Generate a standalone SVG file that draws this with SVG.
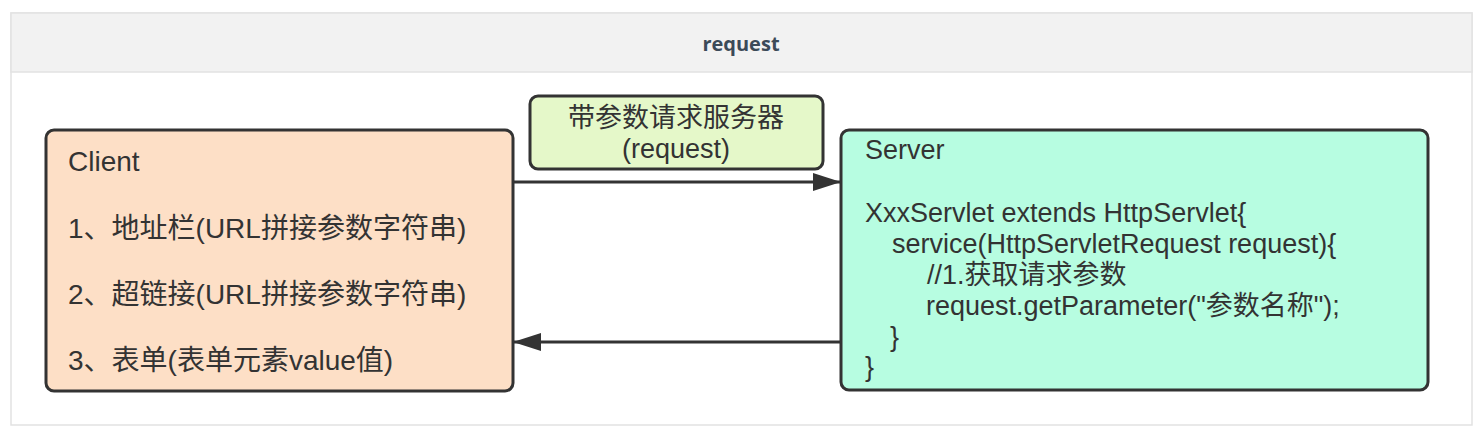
<svg xmlns="http://www.w3.org/2000/svg" width="1484" height="434" viewBox="0 0 1484 434">
<defs>
<marker id="arrow" viewBox="0 0 28 18" refX="28" refY="9" markerWidth="28" markerHeight="18" markerUnits="userSpaceOnUse" orient="auto">
<path d="M0,0 L28,9 L0,18 Z" fill="#333"/>
</marker>
</defs>
<style>
.frame{fill:#fff;stroke:#e2e2e2;stroke-width:1.5}
.header{fill:#f2f2f2;stroke:#e2e2e2;stroke-width:1.5}
.title{font-family:"Open Sans","Liberation Sans",sans-serif;font-weight:bold;font-size:20px;fill:#3c4a58}
.box{stroke:#333;stroke-width:3}
.t{font-family:"Liberation Sans","Noto Sans CJK SC",sans-serif;font-size:27px;fill:#333}
.c{font-size:28px}
.conn{stroke:#333;stroke-width:3;fill:none}
</style>
<g id="frame">
<rect class="frame" x="11" y="13" width="1461" height="412"/>
<rect class="header" x="11" y="13" width="1461" height="59"/>
<text class="title" x="741" y="51" text-anchor="middle">request</text>
</g>
<g id="client">
<rect class="box" x="46" y="130" width="467" height="261" rx="8" fill="#fddfc6"/>
<text class="t c" x="68" y="171">Client</text>
<text class="t c" x="68" y="238">1、地址栏(URL拼接参数字符串)</text>
<text class="t c" x="68" y="304">2、超链接(URL拼接参数字符串)</text>
<text class="t c" x="68" y="370">3、表单(表单元素value值)</text>
</g>
<g id="label">
<rect class="box" x="530" y="96" width="293" height="73" rx="8" fill="#e5f8c9"/>
<text class="t" x="676" y="127" text-anchor="middle">带参数请求服务器</text>
<text class="t" x="676" y="158" text-anchor="middle">(request)</text>
</g>
<g id="server">
<rect class="box" x="841" y="130" width="587" height="260" rx="8" fill="#b7fde1"/>
<text class="t" x="865" y="159">Server</text>
<text class="t" x="865" y="222">XxxServlet extends HttpServlet{</text>
<text class="t" x="892" y="253">service(HttpServletRequest request){</text>
<text class="t" x="927" y="284">//1.获取请求参数</text>
<text class="t" x="926" y="315">request.getParameter("参数名称");</text>
<text class="t" x="890" y="346">}</text>
<text class="t" x="865" y="376">}</text>
</g>
<g id="connectors">
<line class="conn" x1="513" y1="182" x2="841" y2="182" marker-end="url(#arrow)"/>
<line class="conn" x1="841" y1="342" x2="513" y2="342" marker-end="url(#arrow)"/>
</g>
</svg>
